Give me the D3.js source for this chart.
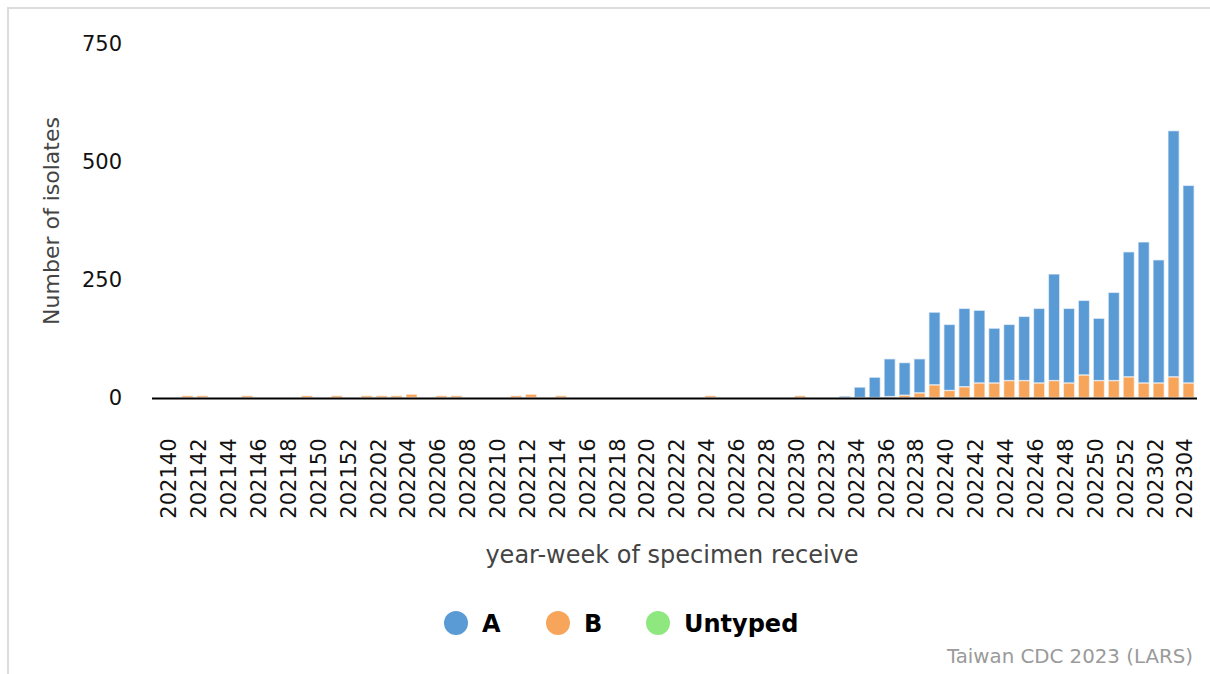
<!DOCTYPE html>
<html>
<head>
<meta charset="utf-8">
<script src="https://cdn.jsdelivr.net/npm/d3@7"></script>
<style>
  html, body { margin: 0; padding: 0; background: #fff; }
  svg { display: block; font-family: "DejaVu Sans", sans-serif; }
</style>
</head>
<body>
<div id="chart"></div>
<script>
// year-week categories
const weeks = [
  "202140","202141","202142","202143","202144","202145","202146","202147","202148","202149",
  "202150","202151","202152","202201","202202","202203","202204","202205","202206","202207",
  "202208","202209","202210","202211","202212","202213","202214","202215","202216","202217",
  "202218","202219","202220","202221","202222","202223","202224","202225","202226","202227",
  "202228","202229","202230","202231","202232","202233","202234","202235","202236","202237",
  "202238","202239","202240","202241","202242","202243","202244","202245","202246","202247",
  "202248","202249","202250","202251","202252","202301","202302","202303","202304"
];

// isolates by type
const valuesA = [
  0,0,0,0,0,0,0,0,0,0,
  0,0,0,0,0,0,0,0,0,0,
  0,0,0,0,0,0,0,0,0,0,
  0,0,0,0,0,0,0,0,0,0,
  0,0,0,0,0,3,22,43,80,69,
  72,154,140,166,154,116,119,136,158,226,
  158,158,132,187,265,299,261,522,419
];
const valuesB = [
  0,4,4,0,0,4,0,0,0,4,
  0,4,0,4,4,4,7,0,4,4,
  0,0,0,4,7,0,4,0,0,0,
  0,0,0,0,0,0,4,0,0,0,
  0,0,4,0,0,0,0,0,2,5,
  10,27,15,23,31,31,36,36,31,36,
  31,48,36,36,44,31,31,44,31
];
const valuesUntyped = weeks.map(() => 0);

const yTicks = [0, 250, 500, 750];
const xTickLabels = weeks.filter((d, i) => i % 2 === 0);

const seriesKeys = ["A", "B", "Untyped"];
const colors = { A: "#5b9bd5", B: "#f8a55c", Untyped: "#8fe77f" };

const width = 1210, height = 674;

const svg = d3.select("#chart").append("svg")
  .attr("width", width)
  .attr("height", height);

// frame
svg.append("rect")
  .attr("x", 8).attr("y", 8)
  .attr("width", 1240).attr("height", 700)
  .attr("fill", "none")
  .attr("stroke", "#dcdcdc")
  .attr("stroke-width", 2);

const x = d3.scaleBand()
  .domain(weeks)
  .range([165, 1196])
  .paddingInner(0.25)
  .paddingOuter(0.125);

const y = d3.scaleLinear()
  .domain([0, 750])
  .range([397.5, 44]);

// table for stacking, B sits at the bottom
const table = weeks.map((w, i) => ({
  week: w, A: valuesA[i], B: valuesB[i], Untyped: valuesUntyped[i]
}));

const stacked = d3.stack().keys(["B", "A", "Untyped"])(table);

svg.append("g")
  .selectAll("g")
  .data(stacked)
  .enter().append("g")
  .attr("fill", d => colors[d.key])
  .selectAll("rect")
  .data(d => d.filter(p => p[1] - p[0] > 0))
  .enter().append("rect")
  .attr("x", d => x(d.data.week))
  .attr("width", x.bandwidth())
  .attr("y", d => y(d[1]))
  .attr("height", d => y(d[0]) - y(d[1]))
  .attr("stroke", "#fff")
  .attr("stroke-opacity", 0.6)
  .attr("stroke-width", 1.3);

// baseline
svg.append("line")
  .attr("x1", 152).attr("x2", 1197)
  .attr("y1", y(0) + 1).attr("y2", y(0) + 1)
  .attr("stroke", "#000")
  .attr("stroke-width", 2.2);

// y axis labels
const yAxis = svg.append("g")
  .attr("transform", "translate(130,0)")
  .call(d3.axisLeft(y).tickValues(yTicks).tickSize(0).tickPadding(8));
yAxis.select(".domain").remove();
yAxis.selectAll("text")
  .attr("font-size", 21)
  .attr("font-family", "DejaVu Sans, sans-serif")
  .attr("fill", "#111");

// x axis labels
const xAxis = svg.append("g")
  .attr("transform", `translate(0,${y(0)})`)
  .call(d3.axisBottom(x).tickValues(xTickLabels).tickSize(0));
xAxis.select(".domain").remove();
xAxis.selectAll("text")
  .attr("font-size", 21)
  .attr("font-family", "DejaVu Sans, sans-serif")
  .attr("fill", "#111")
  .attr("text-anchor", "end")
  .attr("transform", "rotate(-90)")
  .attr("x", -41)
  .attr("y", -3.5)
  .attr("dy", "0.35em");

// axis titles
svg.append("text")
  .attr("x", 672).attr("y", 563)
  .attr("text-anchor", "middle")
  .attr("font-size", 24)
  .attr("fill", "#444")
  .text("year-week of specimen receive");

svg.append("text")
  .attr("transform", "translate(59,221) rotate(-90)")
  .attr("text-anchor", "middle")
  .attr("font-size", 22)
  .attr("fill", "#444")
  .text("Number of isolates");

// legend
const legendX = [456, 558, 658];
const legend = svg.append("g")
  .selectAll("g")
  .data(seriesKeys)
  .enter().append("g")
  .attr("transform", (d, i) => `translate(${legendX[i]},623)`);

legend.append("circle")
  .attr("r", 12)
  .attr("fill", d => colors[d]);

legend.append("text")
  .attr("x", 26)
  .attr("y", 9)
  .attr("font-size", 24)
  .attr("font-weight", "bold")
  .attr("fill", "#000")
  .text(d => d);

// credit
svg.append("text")
  .attr("x", 1193).attr("y", 663)
  .attr("text-anchor", "end")
  .attr("font-size", 19.8)
  .attr("fill", "#9a9a9a")
  .text("Taiwan CDC 2023 (LARS)");
</script>
</body>
</html>
